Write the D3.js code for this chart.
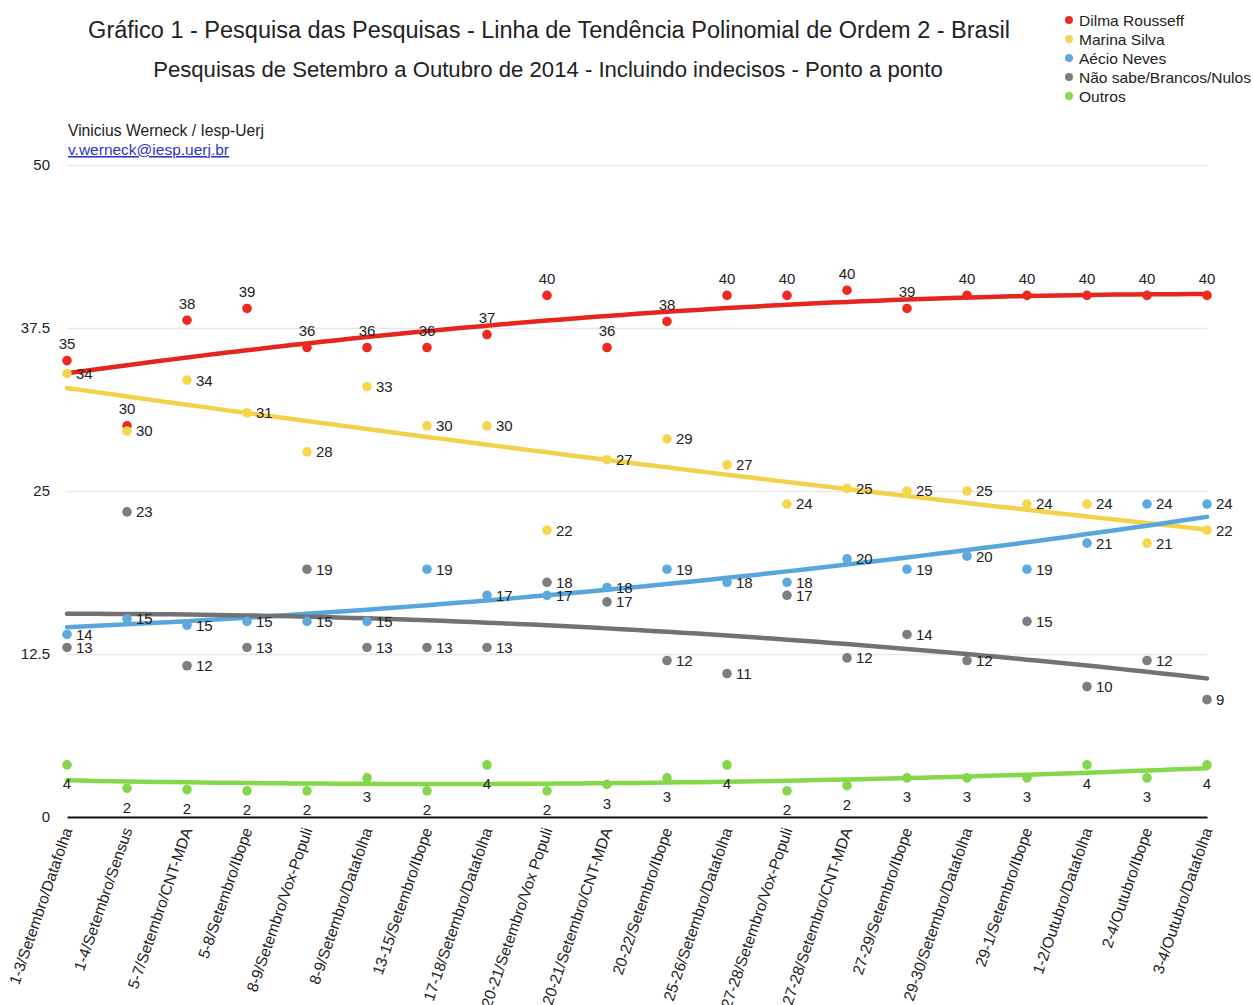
<!DOCTYPE html>
<html><head><meta charset="utf-8">
<script src="https://cdn.jsdelivr.net/npm/d3@7"></script>
<style>body{margin:0;background:#fff}svg{display:block;font-family:"Liberation Sans",Arial,Helvetica,sans-serif}</style>
</head><body>
<svg id="c" width="1253" height="1005"></svg>
<script>
// ---- data ----
const categories = [
  "1-3/Setembro/Datafolha","1-4/Setembro/Sensus","5-7/Setembro/CNT-MDA","5-8/Setembro/Ibope",
  "8-9/Setembro/Vox-Populi","8-9/Setembro/Datafolha","13-15/Setembro/Ibope","17-18/Setembro/Datafolha",
  "20-21/Setembro/Vox Populi","20-21/Setembro/CNT-MDA","20-22/Setembro/Ibope","25-26/Setembro/Datafolha",
  "27-28/Setembro/Vox-Populi","27-28/Setembro/CNT-MDA","27-29/Setembro/Ibope","29-30/Setembro/Datafolha",
  "29-1/Setembro/Ibope","1-2/Outubro/Datafolha","2-4/Outubro/Ibope","3-4/Outubro/Datafolha"
];
const dilma   = [35,30,38.1,39,36,36,36,37,40,36,38,40,40,40.4,39,40,40,40,40,40];
const marina  = [34,29.6,33.5,31,28,33,30,30,22,27.4,29,27,24,25.2,25,25,24,24,21,22];
const aecio   = [14,15.2,14.7,15,15,15,19,17,17,17.6,19,18,18,19.8,19,20,19,21,24,24];
const naoSabe = [13,23.4,11.6,13,19,13,13,13,18,16.5,12,11,17,12.2,14,12,15,10,12,9];
const outros  = [4,2.2,2.1,2,2,3,2,4,2,2.5,3,4,2,2.4,3,3,3,4,3,4];
const yTicks  = [0,12.5,25,37.5,50];
const seriesNames = ["Dilma Rousseff","Marina Silva","Aécio Neves","Não sabe/Brancos/Nulos","Outros"];

const title = "Gráfico 1 - Pesquisa das Pesquisas - Linha de Tendência Polinomial de Ordem 2 - Brasil";
const subtitle = "Pesquisas de Setembro a Outubro de 2014 - Incluindo indecisos - Ponto a ponto";
const author = "Vinicius Werneck / Iesp-Uerj";
const email = "v.werneck@iesp.uerj.br";

const series = [
  {name:seriesNames[0], values:dilma,   dot:"#ec2a22", line:"#e4261c", label:"top"},
  {name:seriesNames[1], values:marina,  dot:"#f5d64e", line:"#f3d24a", label:"right"},
  {name:seriesNames[2], values:aecio,   dot:"#5eaadf", line:"#58a6dc", label:"right"},
  {name:seriesNames[3], values:naoSabe, dot:"#7d7d7d", line:"#727272", label:"right"},
  {name:seriesNames[4], values:outros,  dot:"#86d64c", line:"#84d84a", label:"bottom"}
];

// ---- layout ----
const svg = d3.select("#c");
const x = d3.scalePoint().domain(categories).range([67,1207]);
const y = d3.scaleLinear().domain([0,50]).range([817,165]);
const xi = d3.scaleLinear().domain([0,categories.length-1]).range(x.range());

function fitText(sel, target){
  const w = sel.node().getComputedTextLength();
  const fs = parseFloat(sel.attr("font-size"));
  sel.attr("font-size", (fs*target/w).toFixed(2));
}

// grid
svg.append("g").attr("transform","translate(67,0)")
  .call(d3.axisLeft(y).tickValues(yTicks.filter(d=>d>0)).tickSize(-(1207-67)).tickFormat(""))
  .call(g=>g.select(".domain").remove())
  .call(g=>g.selectAll("line").attr("stroke","#e8e8e8").attr("stroke-width",1.5));
// y labels
svg.append("g").attr("transform","translate(67,0)")
  .call(d3.axisLeft(y).tickValues(yTicks).tickSize(0).tickPadding(17).tickFormat(d=>String(d)))
  .call(g=>g.select(".domain").remove())
  .call(g=>g.selectAll("text").attr("font-size",15).attr("fill","#222").attr("font-family","Liberation Sans, Arial, sans-serif"));

// x axis
svg.append("g").attr("transform","translate(0,817)")
  .call(d3.axisBottom(x).tickSize(0))
  .call(g=>g.select(".domain").attr("stroke","#111").attr("stroke-width",2))
  .call(g=>g.selectAll("text")
     .attr("font-size",15.5).attr("fill","#222").attr("font-family","Liberation Sans, Arial, sans-serif")
     .attr("text-anchor","end").attr("x",0).attr("y",0).attr("dy",0)
     .attr("transform","translate(5,13) rotate(-71)"));

// quadratic least squares fit
function quadFit(vals){
  let S=[0,0,0,0,0], T=[0,0,0];
  vals.forEach((v,i)=>{ for(let k=0;k<5;k++) S[k]+=Math.pow(i,k); for(let k=0;k<3;k++) T[k]+=v*Math.pow(i,k); });
  const A=[[S[0],S[1],S[2],T[0]],[S[1],S[2],S[3],T[1]],[S[2],S[3],S[4],T[2]]];
  for(let c=0;c<3;c++){
    for(let r=c+1;r<3;r++){ const f=A[r][c]/A[c][c]; for(let k=c;k<4;k++) A[r][k]-=f*A[c][k]; }
  }
  const s=[0,0,0];
  for(let r=2;r>=0;r--){ let v=A[r][3]; for(let k=r+1;k<3;k++) v-=A[r][k]*s[k]; s[r]=v/A[r][r]; }
  return t=>s[0]+s[1]*t+s[2]*t*t;
}

const line = d3.line().x(d=>xi(d[0])).y(d=>y(d[1]));
const samples = d3.range(0, categories.length-1+0.001, 0.25);
series.forEach(s=>{
  const f = quadFit(s.values);
  svg.append("path").attr("d", line(samples.map(t=>[t,f(t)])))
    .attr("fill","none").attr("stroke",s.line).attr("stroke-width",4.5).attr("stroke-linecap","round");
});

// dots
series.forEach(s=>{
  svg.append("g").selectAll("circle").data(s.values).join("circle")
    .attr("cx",(d,i)=>x(categories[i])).attr("cy",d=>y(d)).attr("r",4.8).attr("fill",s.dot);
});

// labels
series.forEach(s=>{
  svg.append("g").selectAll("text").data(s.values).join("text")
    .attr("x",(d,i)=>x(categories[i]) + (s.label==="right"?9:0))
    .attr("y",d=>y(d) + (s.label==="top"?-17:(s.label==="bottom"?19:0)))
    .attr("dy","0.36em")
    .attr("text-anchor", s.label==="right"?"start":"middle")
    .attr("font-size",15).attr("fill","#222")
    .text(d=>Math.round(d));
});

// titles
fitText(svg.append("text").attr("x",549).attr("y",38).attr("text-anchor","middle")
  .attr("font-size",21).attr("fill","#222").text(title), 922);
fitText(svg.append("text").attr("x",548).attr("y",77).attr("text-anchor","middle")
  .attr("font-size",18).attr("fill","#222").text(subtitle), 790);
fitText(svg.append("text").attr("x",68).attr("y",136).attr("font-size",13).attr("fill","#222").text(author), 196);
fitText(svg.append("text").attr("x",68).attr("y",155).attr("font-size",13).attr("fill","#2b36c4")
  .attr("text-decoration","underline").text(email), 161);

// legend
const lg = svg.append("g");
const lrows = lg.selectAll("g").data(series).join("g").attr("transform",(d,i)=>`translate(1069,${20+i*19})`);
lrows.append("circle").attr("r",4).attr("fill",d=>d.dot);
const lt = lrows.append("text").attr("x",10).attr("dy","0.36em").attr("font-size",14).attr("fill","#222").text(d=>d.name);
const wNS = lt.filter((d,i)=>i===3).node().getComputedTextLength();
lt.attr("font-size",(14*172/wNS).toFixed(2));
</script>
</body></html>
